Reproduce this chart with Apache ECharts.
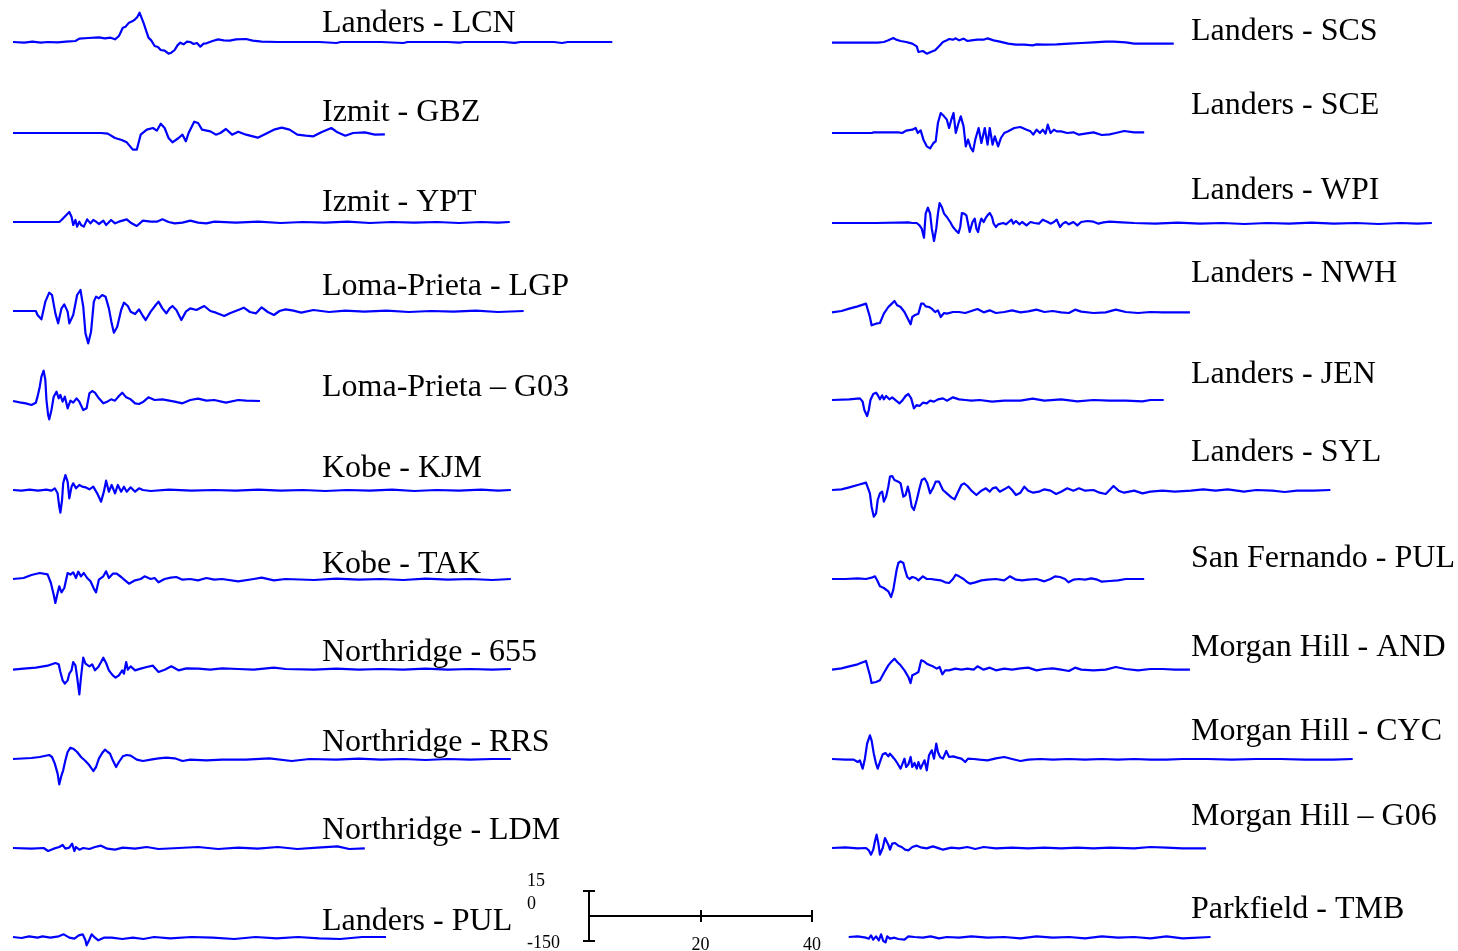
<!DOCTYPE html>
<html>
<head>
<meta charset="utf-8">
<script src="https://cdn.jsdelivr.net/npm/echarts@6/dist/echarts.min.js"></script>
<style>
html, body { margin: 0; padding: 0; background: #ffffff; }
#chart { width: 1458px; height: 951px; }
</style>
</head>
<body>
<div id="chart"></div>
<script>
// Ground-velocity records: [time (s), velocity (cm/s)]
const landersLCN = [[0,0],[2,-4],[3.5,2],[5,-4],[6.2,0],[8,-2],[9.5,2],[11.2,6],[11.9,20],[13.5,24],[15.4,28],[16.5,22],[17.5,26],[18.3,16],[19.0,36],[19.7,86],[20.2,92],[20.8,116],[21.4,124],[21.9,136],[22.3,150],[22.7,176],[23.4,116],[24.3,26],[24.8,10],[25.4,-24],[26.0,-30],[26.5,-48],[27.2,-52],[27.9,-70],[28.4,-64],[29.0,-48],[29.5,-20],[30.0,-4],[30.6,-14],[31.2,2],[31.8,0],[32.4,-12],[33.0,-6],[33.6,-28],[34.2,-10],[34.7,-8],[35.8,6],[36.8,16],[37.8,10],[38.9,8],[40.0,16],[41.8,18],[43.0,8],[44.6,2],[47.5,0],[55,0],[58,-6],[58.8,0],[66,0],[70,-6],[70.8,0],[78,0],[80,-4],[81,0],[88,0],[90,-5],[91,0],[97,0],[98.5,-6],[99.5,0],[107.5,0]];
const izmitGBZ = [[0,0],[15.8,0],[17.0,-4],[18.3,-30],[19.5,-42],[20.4,-56],[21.5,-100],[22.2,-100],[22.9,-10],[24.0,20],[25.1,30],[25.8,14],[26.5,56],[27.2,30],[27.9,-30],[28.6,-56],[29.7,-30],[30.4,-10],[31.0,-50],[31.5,0],[32.5,68],[33.2,60],[33.9,20],[35.4,10],[36.4,-10],[37.2,0],[38.2,24],[39.3,-10],[40.4,8],[41.8,-10],[43.9,-28],[45.0,-10],[46.8,20],[48.2,32],[49.6,20],[51.0,-10],[52.5,-16],[53.9,-20],[55.3,4],[57.1,30],[58.2,4],[59.6,-16],[61.0,0],[63.1,4],[64.9,-10],[66.7,-8]];
const izmitYPT = [[0,0],[8.3,0],[8.7,12],[9.4,36],[10.1,60],[10.5,32],[10.8,-18],[11.2,12],[11.5,-28],[11.9,2],[12.2,-18],[12.7,-28],[13.3,16],[13.9,-8],[14.4,12],[14.9,2],[15.4,-12],[16.2,8],[16.7,-18],[17.6,12],[18.3,-8],[19.0,2],[20.4,16],[21.1,-4],[22.2,-24],[23.3,8],[24.7,2],[25.8,2],[26.8,16],[27.9,0],[29.0,-8],[30.4,-4],[31.8,8],[33.2,-4],[34.7,-8],[36.1,2],[40,-4],[44,2],[48,-6],[52,0],[56,-4],[60,2],[64,-6],[68,0],[72,-4],[76,0],[80,-6],[84,0],[87,-4],[89.1,0]];
const lomaPrietaLGP = [[0,0],[4.1,0],[4.4,-24],[5.1,-50],[5.8,56],[6.5,110],[7.0,96],[7.6,-14],[8.1,-74],[8.7,16],[9.2,40],[9.8,-4],[10.1,-74],[10.8,-24],[11.5,96],[12.1,126],[12.6,26],[13.0,-134],[13.5,-194],[14.0,-124],[14.5,56],[14.9,86],[15.4,76],[16.0,96],[16.6,86],[17.2,16],[17.7,-74],[18.1,-130],[18.7,-94],[19.4,6],[19.9,50],[20.6,30],[21.1,-4],[21.9,-18],[22.6,10],[23.3,-30],[23.8,-54],[24.7,-4],[25.6,36],[26.1,56],[26.8,16],[27.5,-14],[28.1,16],[28.6,30],[29.3,6],[30.2,-54],[31.0,-4],[31.8,16],[32.9,6],[34.3,30],[35.4,0],[36.4,-10],[37.9,-30],[38.9,-14],[40.4,6],[41.4,20],[42.5,-6],[43.6,-14],[44.6,22],[45.7,-6],[46.8,-24],[47.8,0],[48.9,10],[50.3,2],[51.7,-10],[53.9,6],[56.7,-6],[59.6,2],[63,-4],[67,2],[71,-6],[75,0],[79,-4],[83,2],[87,-6],[91.6,0]];
const lomaPrietaG03 = [[0,0],[1.2,-8],[2.3,-14],[3.3,-24],[4.1,-10],[4.4,26],[4.8,86],[5.1,146],[5.5,182],[5.8,126],[6.0,6],[6.3,-84],[6.5,-110],[6.9,-54],[7.3,26],[7.8,56],[8.2,16],[8.5,36],[8.9,-4],[9.3,26],[9.8,-44],[10.3,2],[10.8,-10],[11.4,16],[11.9,-4],[12.6,-54],[13.2,-44],[13.7,46],[14.2,60],[14.7,50],[15.4,16],[16.2,-14],[16.9,-4],[17.6,10],[18.3,2],[19.0,30],[19.6,50],[20.3,22],[21.1,10],[21.9,-14],[22.6,-18],[23.4,-4],[24.3,22],[25.4,6],[26.8,10],[29.0,-4],[30.4,-14],[31.8,6],[33.2,14],[34.7,2],[36.1,6],[38.2,-10],[40.4,6],[41.8,2],[44.3,0]];
const kobeKJM = [[0,0],[1.5,-4],[3,2],[4.5,-4],[6,2],[6.9,-4],[7.5,10],[8.0,-20],[8.3,-100],[8.5,-136],[8.8,-60],[9.0,40],[9.4,90],[9.8,50],[10.1,-50],[10.5,20],[10.8,40],[11.3,10],[11.9,30],[12.4,20],[13.0,16],[13.7,4],[14.4,20],[15.1,-20],[15.8,-70],[16.3,-10],[16.7,56],[17.2,-10],[17.7,30],[18.3,-20],[18.8,30],[19.4,-10],[19.9,20],[20.4,-10],[21.1,16],[21.9,-10],[22.6,10],[23.3,0],[24.7,-6],[28,2],[32,-4],[36,0],[40,-4],[44,2],[48,-4],[52,0],[56,-6],[60,0],[64,-4],[68,2],[72,-6],[76,0],[80,-4],[84,2],[87,-4],[89.3,0]];
const kobeTAK = [[0,0],[1.9,6],[3.3,24],[4.8,36],[6.2,28],[6.8,-24],[7.3,-94],[7.6,-144],[8.0,-84],[8.3,-44],[8.7,-80],[9.2,-54],[9.8,36],[10.3,26],[10.8,40],[11.3,6],[11.7,44],[12.2,16],[12.7,36],[13.3,6],[13.9,-14],[14.6,-64],[14.9,-80],[15.4,-4],[16.2,16],[16.7,46],[17.2,6],[17.9,32],[18.6,32],[19.4,12],[20.1,-8],[20.8,-28],[21.9,-8],[22.9,0],[23.6,16],[24.7,0],[25.4,6],[26.1,-20],[27.2,0],[28.3,8],[29.3,12],[30.4,-4],[31.8,0],[33.2,-8],[34.7,6],[36.1,-4],[37.5,0],[40.4,-14],[43.2,0],[44.6,8],[46.8,-8],[48.9,0],[54,-6],[58,2],[62,-4],[66,0],[70,-6],[74,2],[78,-4],[82,0],[86,-6],[89.3,0]];
const northridge655 = [[0,-4],[1.9,2],[4.1,8],[6.2,20],[7.6,36],[8.2,28],[8.5,-18],[8.9,-68],[9.3,-88],[9.8,-68],[10.1,-28],[10.5,-8],[10.8,42],[11.2,22],[11.5,-48],[11.9,-152],[12.2,-48],[12.6,68],[13.0,32],[13.3,42],[13.7,16],[14.2,28],[14.7,-8],[15.3,12],[15.8,42],[16.2,68],[16.7,36],[17.2,-8],[17.9,-38],[18.4,-52],[19.0,-38],[19.6,-8],[19.9,-28],[20.3,42],[20.6,-4],[21.1,16],[21.9,-8],[22.9,2],[24.0,12],[25.1,20],[26.1,-18],[27.2,-4],[28.4,16],[29.7,-8],[31.1,4],[33.2,2],[35.4,-4],[37.5,4],[40.4,0],[43.2,-4],[46.8,8],[48.9,0],[54,-4],[58,2],[62,-4],[66,0],[70,-4],[74,2],[78,-4],[82,0],[86,-4],[89.3,0]];
const northridgeRRS = [[0,0],[3.3,6],[4.8,12],[6.5,24],[7.0,12],[7.5,-28],[8.0,-88],[8.3,-152],[8.7,-98],[9.0,-68],[9.4,-8],[9.8,42],[10.3,68],[10.8,62],[11.5,42],[12.2,12],[13.0,-12],[13.7,-38],[14.4,-72],[14.9,-48],[15.4,2],[16.0,36],[16.5,56],[17.0,42],[17.4,32],[17.9,-8],[18.5,-48],[19.0,-18],[19.7,16],[20.4,24],[21.1,20],[22.2,-4],[23.3,-12],[24.7,-4],[26.1,4],[27.5,8],[29.0,4],[30.4,-12],[31.8,-4],[34.7,-8],[37.5,-4],[41.8,-4],[46.0,4],[50.0,-12],[53.2,0],[58,-4],[62,2],[66,-4],[70,0],[74,-6],[78,0],[82,-4],[86,0],[89.3,0]];
const northridgeLDM = [[0,0],[3.3,-4],[5.5,0],[6.3,-18],[7.3,-4],[8.3,6],[8.9,18],[9.4,-4],[10.1,2],[10.6,26],[11.0,-18],[11.3,6],[11.9,-10],[12.6,0],[13.7,-6],[14.7,6],[15.8,14],[16.9,-4],[18.3,-10],[19.7,2],[21.9,-4],[24.0,6],[26.1,-6],[29.7,0],[33.2,6],[36.8,-6],[40.4,2],[43.9,-4],[47.5,6],[51.0,-6],[54.6,2],[58.2,10],[60.3,-6],[63.1,-2]];
const landersPUL = [[0,0],[1.5,-6],[2.9,4],[4.4,-4],[5.3,4],[6.7,-4],[8.2,4],[9.1,16],[10.1,-4],[11.0,-10],[11.8,10],[12.5,16],[13.0,-20],[13.2,-50],[13.7,-16],[14.1,16],[14.7,-4],[15.3,-20],[16.3,-4],[17.7,-4],[19.6,-12],[21.5,-4],[23.4,-12],[25.3,0],[28.2,-8],[32.0,0],[35.8,-4],[39.7,-12],[43.5,0],[47.3,-8],[51.1,0],[54.9,-8],[58.7,-12],[62.6,0],[66.9,0]];

const landersSCS = [[0,2],[8.2,2],[9.3,6],[10.1,16],[11.0,30],[11.5,20],[12.3,12],[12.6,20],[13.3,6],[14.4,-4],[15.2,-20],[15.5,-54],[16.3,-48],[17.0,-64],[17.7,-54],[18.5,-44],[19.2,-20],[19.9,6],[20.6,16],[21.0,24],[21.7,20],[22.2,28],[22.8,16],[23.6,26],[24.3,12],[25.0,16],[26.1,20],[27.2,20],[27.9,28],[29.0,16],[30.1,8],[31.6,-4],[33.0,-10],[34.5,-10],[36.0,-14],[36.7,-8],[38.1,-10],[40.3,-8],[42.5,-4],[44.7,0],[46.9,4],[49.1,8],[50.5,8],[52.7,4],[54.2,-4],[57.1,-4],[61.3,-4]];
const landersSCE = [[0,0],[7.1,0],[7.5,4],[11.9,4],[12.6,0],[13.3,14],[14.4,20],[15.0,30],[15.4,0],[15.9,16],[16.4,-40],[17.0,-80],[17.6,-92],[18.2,-60],[18.6,-50],[19.0,60],[19.5,120],[20.1,100],[20.6,80],[21.0,30],[21.4,80],[21.8,120],[22.2,0],[22.7,60],[23.1,100],[23.6,40],[24.0,-80],[24.4,-40],[24.9,-90],[25.3,-110],[25.7,-40],[26.3,30],[26.8,-60],[27.4,30],[27.9,-70],[28.3,30],[28.8,-70],[29.2,-20],[29.8,-80],[30.3,-30],[30.9,0],[31.6,10],[32.7,30],[33.8,36],[34.9,20],[35.6,10],[36.1,-10],[36.7,20],[37.3,0],[37.8,20],[38.3,-4],[38.7,50],[39.2,0],[39.8,20],[40.3,10],[41.1,10],[42.2,0],[43.3,4],[44.3,-10],[45.4,-4],[46.9,4],[48.4,-12],[49.8,-8],[50.9,0],[52.4,12],[54.2,4],[56.0,4]];
const landersWPI = [[0,0],[7.9,0],[8.2,4],[13.7,4],[14.4,0],[15.2,0],[15.7,-14],[16.1,-34],[16.5,-88],[16.8,56],[17.2,92],[17.6,56],[17.9,-34],[18.3,-108],[18.7,-34],[19.0,56],[19.3,120],[19.7,96],[20.1,56],[20.6,36],[21.2,6],[21.7,-24],[22.2,-44],[22.7,-60],[23.0,-24],[23.3,60],[23.7,56],[24.1,46],[24.4,56],[24.7,-54],[25.2,6],[25.6,26],[25.9,-34],[26.2,-54],[26.5,-4],[26.8,26],[27.2,6],[27.6,32],[27.9,46],[28.3,60],[28.7,36],[29.0,-4],[29.4,-24],[29.8,-8],[30.1,-14],[30.7,0],[31.2,-8],[31.7,6],[32.2,20],[32.5,-4],[33.0,12],[33.6,-8],[34.1,6],[34.9,-14],[35.6,6],[36.3,0],[37.1,-4],[37.8,20],[38.1,32],[38.7,6],[39.2,-4],[39.8,6],[40.3,20],[40.9,-24],[41.4,-4],[41.9,6],[42.5,-8],[43.3,6],[44.0,-14],[44.7,6],[45.8,12],[46.9,8],[47.8,-4],[48.7,4],[49.8,8],[52.0,4],[54.2,0],[58,-4],[62,2],[66,-4],[70,0],[74,-6],[78,0],[82,-4],[86,2],[90,-4],[94,0],[98,-6],[102,0],[105,-4],[107.6,0]];
const landersNWH = [[0,-2],[1.7,6],[3.1,20],[4.6,34],[6.1,50],[6.4,40],[6.8,-30],[7.1,-80],[7.9,-70],[8.6,-66],[9.3,-10],[10.1,30],[10.6,46],[11.2,66],[11.7,40],[12.3,30],[13.0,0],[13.7,-46],[14.1,-74],[14.4,-30],[14.8,-20],[15.5,-10],[16.0,50],[16.4,50],[16.8,34],[17.4,30],[17.9,20],[18.5,0],[19.0,10],[19.5,-30],[20.1,-6],[20.6,-10],[21.7,0],[22.8,0],[23.9,-6],[25.0,6],[26.1,18],[27.2,-2],[28.3,10],[29.4,-6],[30.9,0],[32.3,10],[33.8,-2],[35.2,4],[36.7,14],[38.1,0],[39.6,6],[41.1,-2],[42.5,-6],[43.6,14],[44.7,2],[46.9,-6],[49.1,-2],[50.9,14],[52.7,0],[54.9,-6],[57.1,0],[59.3,-2],[61.5,-2],[64.2,-2]];
const landersJEN = [[0,0],[3.1,4],[5.0,10],[5.5,-10],[5.8,-60],[6.3,-96],[6.6,-60],[6.9,0],[7.4,36],[7.9,44],[8.2,30],[8.6,4],[9.0,28],[9.3,4],[9.7,24],[10.3,4],[10.8,16],[11.5,-4],[12.1,-20],[12.6,-4],[13.2,24],[13.7,36],[14.2,10],[14.7,-50],[15.2,-30],[15.7,-36],[16.3,-16],[17.0,-20],[17.6,-4],[18.3,-10],[19.0,4],[19.9,10],[20.6,-4],[21.7,16],[22.8,4],[23.9,0],[25.0,-4],[26.5,0],[28.7,-10],[30.9,-4],[33.8,-4],[36.0,8],[38.1,-4],[41.1,4],[44.0,-8],[46.9,0],[49.8,-4],[52.7,-4],[55.7,-8],[57.1,0],[59.5,0]];
const landersSYL = [[0,0],[1.7,4],[3.1,16],[4.6,30],[6.1,44],[6.4,36],[6.8,-20],[7.1,-100],[7.5,-160],[7.9,-140],[8.2,-60],[8.6,-20],[9.0,-10],[9.3,-70],[9.7,-40],[10.1,20],[10.4,80],[10.8,84],[11.2,60],[11.5,56],[11.9,50],[12.3,40],[12.8,-40],[13.2,-30],[13.6,20],[13.9,-20],[14.3,-100],[14.7,-120],[15.2,-60],[15.7,10],[16.1,60],[16.6,70],[17.1,40],[17.6,-20],[18.1,10],[18.6,50],[19.2,50],[19.9,0],[20.6,-20],[21.4,-44],[22.0,-56],[22.5,-20],[23.2,30],[23.7,40],[24.3,24],[25.0,-4],[25.9,-30],[26.8,-4],[27.6,10],[28.3,-10],[28.8,10],[29.4,16],[30.1,-10],[30.9,4],[31.7,20],[32.3,0],[33.0,-30],[33.8,-16],[34.5,20],[35.2,-4],[36.1,-16],[37.1,-10],[38.1,4],[39.2,-4],[40.2,-24],[41.1,-10],[42.2,10],[43.3,-4],[44.3,10],[45.4,-4],[46.9,0],[48.0,-16],[49.1,-24],[49.8,0],[50.5,24],[51.4,-4],[52.4,-16],[54.2,-4],[55.7,-20],[57.1,-10],[59.3,-4],[61.5,-10],[64.4,-4],[66.6,4],[68.8,-4],[71.0,4],[73.9,-10],[76.1,0],[79.0,-4],[81.2,-12],[83.4,-4],[86.3,-4],[89.4,0]];
const sanFernandoPUL = [[0,0],[2.4,0],[4.6,4],[6.1,0],[7.1,8],[7.7,16],[8.1,-8],[8.6,-44],[9.3,-54],[10.1,-74],[10.4,-94],[10.6,-108],[11.0,-64],[11.3,-4],[11.6,56],[11.9,96],[12.3,106],[12.8,96],[13.1,56],[13.5,12],[13.9,0],[14.4,12],[15.0,6],[15.5,-8],[16.3,16],[17.0,0],[17.7,0],[18.5,-4],[19.5,-8],[20.3,-20],[21.0,-24],[21.7,0],[22.2,26],[22.8,16],[23.6,0],[24.3,-20],[24.8,-28],[25.7,-20],[26.8,-8],[27.9,-4],[29.4,0],[30.9,-8],[31.9,16],[33.0,-4],[34.1,-8],[35.2,-4],[36.7,0],[38.1,-14],[39.2,0],[40.0,16],[40.9,12],[41.8,0],[42.4,-20],[43.3,-4],[44.3,0],[45.4,-4],[46.5,4],[47.6,-4],[48.4,-16],[49.8,-12],[51.3,-8],[52.7,0],[54.2,0],[56.0,0]];
const morganHillAND = [[0,-4],[1.7,4],[3.1,16],[4.6,28],[6.1,48],[6.4,36],[6.8,-38],[7.1,-84],[7.9,-78],[8.6,-68],[9.3,-24],[10.1,22],[10.6,42],[11.2,62],[11.7,42],[12.3,22],[13.0,-8],[13.7,-48],[14.1,-84],[14.4,-38],[15.0,-28],[15.5,-18],[16.0,52],[16.4,48],[17.0,32],[17.6,22],[18.1,16],[18.8,2],[19.3,12],[19.8,-32],[20.3,-8],[21.0,-8],[22.1,2],[23.2,-4],[24.3,2],[25.4,-4],[26.1,16],[27.2,-4],[28.3,8],[29.4,-8],[30.9,2],[32.3,-4],[33.8,4],[35.2,8],[36.7,-8],[38.1,0],[39.6,4],[41.1,-4],[42.5,-12],[43.6,8],[44.7,-4],[46.9,-8],[49.1,-4],[50.9,12],[52.7,0],[54.9,-8],[57.1,0],[59.3,0],[61.5,-4],[64.2,-4]];
const morganHillCYC = [[0,0],[2.4,-4],[3.9,-4],[4.6,-18],[5.0,-8],[5.5,-58],[5.9,2],[6.3,92],[6.8,142],[7.1,112],[7.5,32],[7.9,-28],[8.2,-58],[8.7,-8],[9.1,28],[9.6,36],[10.1,16],[10.4,32],[10.9,12],[11.3,-4],[11.7,-24],[12.3,-58],[12.6,-32],[13.0,2],[13.3,-48],[13.7,-32],[14.1,12],[14.4,-48],[14.8,-24],[15.2,-58],[15.5,-18],[15.9,-58],[16.3,-28],[16.6,-8],[17.0,-68],[17.4,22],[17.9,52],[18.3,2],[18.7,92],[19.0,42],[19.4,12],[19.9,2],[20.5,48],[21.0,12],[21.7,16],[22.5,8],[23.2,2],[23.9,-18],[24.4,2],[25.4,0],[26.5,-4],[27.9,-8],[29.4,4],[30.9,12],[32.3,0],[33.8,-12],[35.2,-4],[37.4,0],[39.6,-4],[42.5,0],[45.4,-4],[48.4,0],[51.3,-4],[54.2,0],[57.1,-4],[60.0,-4],[62.9,0],[67.3,0],[71.7,-4],[76.1,0],[80.5,0],[84.8,-4],[89.9,-4],[93.4,0]];
const morganHillG06 = [[0,0],[2.4,4],[4.6,-2],[6.1,0],[6.6,-14],[7.0,-40],[7.4,-10],[7.7,40],[8.0,80],[8.3,30],[8.6,-40],[8.8,-46],[9.1,0],[9.5,60],[9.8,70],[10.1,20],[10.4,-10],[10.8,26],[11.3,30],[11.9,14],[12.5,6],[13.1,-10],[13.7,-14],[14.4,6],[15.2,14],[15.9,4],[17.0,-2],[18.1,10],[19.2,-2],[19.9,-10],[21.4,2],[22.8,-2],[24.3,6],[25.7,-6],[27.2,6],[29.4,-2],[32.3,2],[35.2,-2],[38.1,2],[41.1,-2],[44.0,2],[46.9,-2],[49.8,2],[54.2,-2],[57.1,6],[60.0,2],[62.9,-2],[67.1,-2]];
const parkfieldTMB = [[3.0,0],[4.6,4],[6.1,-4],[6.6,-10],[7.0,10],[7.4,-16],[7.9,4],[8.4,-20],[8.8,16],[9.2,-24],[9.6,-32],[9.9,4],[10.4,-10],[11.2,-4],[11.9,-12],[13.0,-16],[13.7,4],[14.8,0],[16.3,-4],[17.7,4],[19.2,-8],[20.6,0],[22.8,-4],[25.0,4],[27.9,-4],[30.9,0],[33.8,-8],[36.7,4],[39.6,-4],[42.5,0],[45.4,-8],[48.4,4],[51.3,-4],[54.2,0],[57.1,-8],[60.0,4],[62.9,-8],[67.9,0]];

// Station names, one per column
const leftStations = ['Landers - LCN', 'Izmit - GBZ', 'Izmit - YPT', 'Loma-Prieta - LGP', 'Loma-Prieta \u2013 G03', 'Kobe - KJM', 'Kobe - TAK', 'Northridge - 655', 'Northridge - RRS', 'Northridge - LDM', 'Landers - PUL'];
const rightStations = ['Landers - SCS', 'Landers - SCE', 'Landers - WPI', 'Landers - NWH', 'Landers - JEN', 'Landers - SYL', 'San Fernando - PUL', 'Morgan Hill - AND', 'Morgan Hill - CYC', 'Morgan Hill \u2013 G06', 'Parkfield - TMB'];
const leftRecords = [landersLCN, izmitGBZ, izmitYPT, lomaPrietaLGP, lomaPrietaG03, kobeKJM, kobeTAK, northridge655, northridgeRRS, northridgeLDM, landersPUL];
const rightRecords = [landersSCS, landersSCE, landersWPI, landersNWH, landersJEN, landersSYL, sanFernandoPUL, morganHillAND, morganHillCYC, morganHillG06, parkfieldTMB];

// Scale bar ticks
const scaleTimeTicks = [20, 40];
const scaleVelTicks = [150, 0, -150];
const scaleVelLabels = ['15', '0', '-150'];

// ---- layout ----
const SERIF = '"Liberation Serif", "Times New Roman", Times, serif';
const TRACE_COLOR = '#0000ff';
const PX_PER_S = 5.575;     // shared time scale (px per second)
const T_SPAN = 110;         // seconds shown per trace row
const V_HALF = 240;         // cm/s above/below baseline in each row
const ROW_H = 80;           // px per row (6 cm/s per px)
const colLeft = [13, 832];
const baselines = [
  [42, 133, 222, 311, 401, 490, 579, 669, 759, 848, 937],
  [43, 133, 223, 312, 400, 490, 579, 669, 759, 848, 937]
];
const labelX = [322, 1191];
const labelY = [
  [24, 113, 203, 287, 388, 469, 565, 653, 743, 831, 922],
  [32, 106, 191, 274, 375, 453, 559, 648, 732, 817, 910]
];

const grids = [], xAxes = [], yAxes = [], series = [], graphics = [];
[[leftStations, leftRecords], [rightStations, rightRecords]].forEach(([names, recs], c) => {
  recs.forEach((rec, r) => {
    const gi = grids.length;
    grids.push({
      left: colLeft[c], top: baselines[c][r] - ROW_H / 2,
      width: T_SPAN * PX_PER_S, height: ROW_H,
      containLabel: false, outerBoundsMode: 'none'
    });
    xAxes.push({ gridIndex: gi, type: 'value', min: 0, max: T_SPAN, show: false });
    yAxes.push({ gridIndex: gi, type: 'value', min: -V_HALF, max: V_HALF, show: false });
    series.push({
      type: 'line', name: names[r], xAxisIndex: gi, yAxisIndex: gi,
      data: rec, symbol: 'none', silent: true, clip: true,
      lineStyle: { color: TRACE_COLOR, width: 2.2, join: 'round' }
    });
    graphics.push({
      type: 'text', x: labelX[c], y: labelY[c][r], silent: true,
      style: {
        text: names[r], fill: '#000', font: '32px ' + SERIF,
        textAlign: 'left', textVerticalAlign: 'middle', align: 'left', verticalAlign: 'middle'
      }
    });
  });
});

// Scale bar: time (s) horizontally, velocity (cm/s) vertically
const sg = grids.length;
grids.push({ left: 589, top: 891, width: 40 * PX_PER_S, height: 50, containLabel: false, outerBoundsMode: 'none' });
const axisLineStyle = { color: '#000', width: 2 };
const sx = xAxes.length;
xAxes.push({
  gridIndex: sg, type: 'value', min: 0, max: 40, position: 'bottom',
  axisLine: { show: true, onZero: true, lineStyle: axisLineStyle },
  axisTick: { show: true, customValues: scaleTimeTicks, length: 6, lineStyle: axisLineStyle },
  axisLabel: { show: true, customValues: scaleTimeTicks, margin: -5, color: '#000', fontFamily: SERIF, fontSize: 18, hideOverlap: false, showMinLabel: true, showMaxLabel: true },
  splitLine: { show: false }
});
xAxes.push({
  gridIndex: sg, type: 'value', min: 0, max: 40, position: 'top',
  axisLine: { show: true, onZero: true, lineStyle: axisLineStyle },
  axisTick: { show: true, customValues: scaleTimeTicks, length: 6, lineStyle: axisLineStyle },
  axisLabel: { show: false }, splitLine: { show: false }
});
const richShift = {
  l0: { padding: [0, 0, 20, 0], color: '#000', fontFamily: SERIF, fontSize: 18 },
  l1: { padding: [0, 0, 24, 0], color: '#000', fontFamily: SERIF, fontSize: 18 },
  l2: { padding: [4, 0, 0, 0], color: '#000', fontFamily: SERIF, fontSize: 18 }
};
const sy = yAxes.length;
yAxes.push({
  gridIndex: sg, type: 'value', min: -150, max: 150, position: 'left',
  axisLine: { show: true, onZero: true, lineStyle: axisLineStyle },
  axisTick: { show: true, customValues: [-150, 150], length: 6, lineStyle: axisLineStyle },
  axisLabel: {
    show: true, customValues: scaleVelTicks, margin: 62, align: 'left',
    showMinLabel: true, showMaxLabel: true, hideOverlap: false,
    color: '#000', fontFamily: SERIF, fontSize: 18,
    formatter: (v) => { const i = scaleVelTicks.indexOf(v); return '{l' + i + '|' + scaleVelLabels[i] + '}'; },
    rich: richShift
  },
  splitLine: { show: false }
});
yAxes.push({
  gridIndex: sg, type: 'value', min: -150, max: 150, position: 'right',
  axisLine: { show: true, onZero: true, lineStyle: axisLineStyle },
  axisTick: { show: true, customValues: [-150, 150], length: 6, lineStyle: axisLineStyle },
  axisLabel: { show: false }, splitLine: { show: false }
});
// an empty series keeps the scale grid's axes active
series.push({ type: 'line', xAxisIndex: sx, yAxisIndex: sy, data: [], silent: true, symbol: 'none' });

const chart = echarts.init(document.getElementById('chart'), null, { renderer: 'canvas' });
chart.setOption({
  animation: false,
  backgroundColor: '#ffffff',
  grid: grids, xAxis: xAxes, yAxis: yAxes, series: series,
  graphic: { elements: graphics }
});
</script>
</body>
</html>
